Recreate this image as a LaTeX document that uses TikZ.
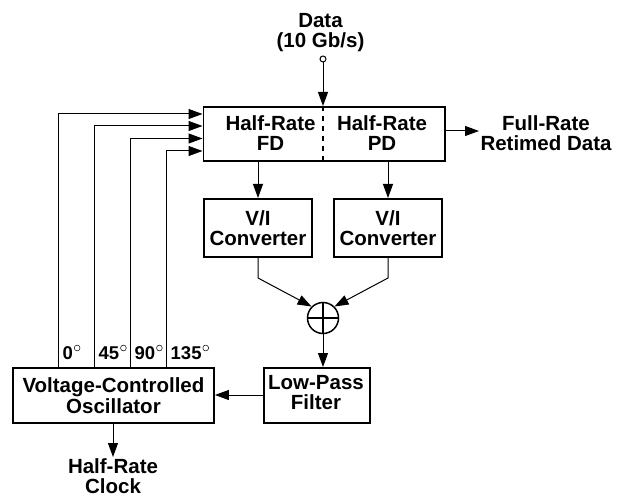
\documentclass[tikz,border=0pt]{standalone}
\usepackage{fontspec}
\setmainfont{Liberation Sans}[BoldFont={Liberation Sans Bold}]
\usetikzlibrary{arrows.meta,calc,positioning}
\tikzset{
  blockbox/.style={draw,line width=1.9bp,inner sep=0pt,align=center},
  lab/.style={font=\fontsize{20.5bp}{20.5bp}\selectfont\bfseries,align=center,inner sep=0pt},
  labs/.style={font=\fontsize{18.5bp}{20bp}\selectfont\bfseries,inner sep=0pt},
  conn/.style={line width=1bp,-{Triangle[length=14bp,width=10bp]}},
}
\newcommand{\degmark}{\hspace{1bp}\raisebox{11bp}{\tikz[baseline]\draw[line width=0.5bp] (0,0) circle (2.9bp);}}
\begin{document}
\begin{tikzpicture}[x=1bp,y=-1bp]
\useasboundingbox (0,0) rectangle (619,498);
% blocks
\node[blockbox,minimum width=241.5bp,minimum height=54.5bp,anchor=north west] (pd) at (202.5,106) {};
\node[lab,text width=110bp] (fdt) at (270.5,133) {Half-Rate\\FD};
\node[lab,text width=110bp] (pdt) at (382,133) {Half-Rate\\PD};
\node[blockbox,minimum width=108bp,minimum height=58bp,anchor=north west] (vi1) at (203,198) {};
\node[lab] (vi1t) at (vi1.center) {V/I\\Converter};
\node[blockbox,minimum width=108bp,minimum height=58bp,anchor=north west] (vi2) at (333,198) {};
\node[lab] (vi2t) at (vi2.center) {V/I\\Converter};
\node[blockbox,lab,minimum width=201bp,minimum height=55bp,anchor=north west] (vco) at (12,367) {Voltage-Controlled\\Oscillator};
\node[blockbox,minimum width=106bp,minimum height=55bp,anchor=north west] (lpf) at (263,367) {};
\node[lab] (lpft) at (316,392.5) {Low-Pass\\Filter};
% summer
\node[draw,circle,line width=1.5bp,minimum size=31bp,inner sep=0pt] (sum) at (323,318) {};
\draw[line width=1.5bp] (sum.north) -- (sum.south) (sum.west) -- (sum.east);
% dashed divider
\coordinate (dtop) at (323,106);
\coordinate (dbot) at (323,160.5);
\draw[line width=1.8bp,dash pattern=on 5bp off 5bp] (dtop) -- (dbot);
% data input
\node[draw,circle,line width=1bp,minimum size=6bp,inner sep=0pt] (din) at (323,59) {};
\draw[conn] (din) -- (dtop);
\node[lab] (dlab) at (320.5,32.5) {Data\\(10 Gb/s)};
% output
\coordinate (oa) at (444,131);
\coordinate (ob) at (479,131);
\draw[conn] (oa) -- (ob);
\node[lab] (olab) at (546,133) {Full-Rate\\Retimed Data};
% PD to V/I
\draw[conn] (258,160.5) -- (258,198);
\draw[conn] (388,160.5) -- (388,198);
% V/I to sum
\coordinate (c1) at (258,278);
\coordinate (c2) at (388,278);
\draw[conn] (258,256) -- (c1) -- (sum.135);
\draw[conn] (388,256) -- (c2) -- (sum.45);
% sum to LPF
\draw[conn] (sum) -- (323,367);
% LPF to VCO
\draw[conn] (lpf.west |- 0,395) -- (vco.east |- 0,395);
% clock
\coordinate (clk) at (113,457);
\draw[conn] (vco.south -| clk) -- (clk);
\node[lab] (clab) at (113,476) {Half-Rate\\Clock};
% phases
\draw[conn] (58,367) -- (58,114) -- (202.5,114);
\draw[conn] (94.5,367) -- (94.5,126) -- (202.5,126);
\draw[conn] (130.5,367) -- (130.5,138.5) -- (202.5,138.5);
\draw[conn] (166.5,367) -- (166.5,151) -- (202.5,151);
\node[labs,anchor=base west] (p0) at (62.5,359) {0\degmark};
\node[labs,anchor=base west] (p45) at (98.5,359) {45\degmark};
\node[labs,anchor=base west] (p90) at (134.5,359) {90\degmark};
\node[labs,anchor=base west] (p135) at (170.5,359) {135\degmark};
\end{tikzpicture}
\end{document}
